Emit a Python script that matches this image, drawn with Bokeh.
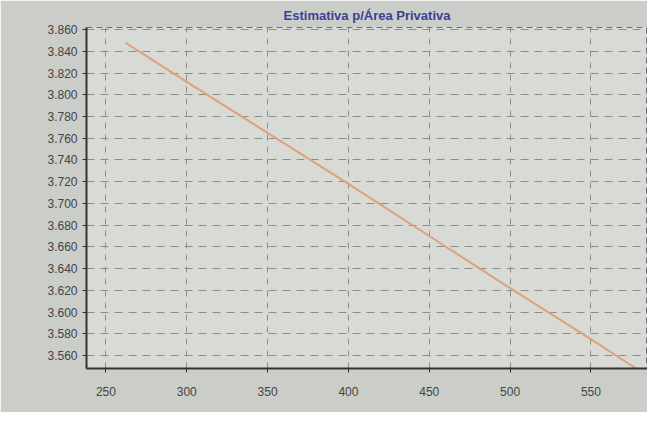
from bokeh.plotting import figure
from bokeh.models import Range1d, FixedTicker, CustomJSTickFormatter
from bokeh.embed import file_html
from bokeh.resources import INLINE

# Data (area vs estimated value per m²)
area = [262, 300, 350, 400, 450, 500, 550, 578]
estimate = [3848, 3812, 3765, 3718, 3670, 3622, 3575, 3548]
x_ticks = [250, 300, 350, 400, 450, 500, 550]
y_ticks = [3560, 3580, 3600, 3620, 3640, 3660, 3680, 3700, 3720, 3740, 3760, 3780, 3800, 3820, 3840, 3860]

p = figure(width=647, height=412, output_backend="svg", toolbar_location=None,
           x_range=Range1d(238, 585), y_range=Range1d(3548, 3862),
           title="Estimativa p/Área Privativa")

p.background_fill_color = "#d8dad6"
p.border_fill_color = "#cbcdc9"
p.outline_line_color = "#6f716f"
p.outline_line_dash = "6 4"
p.min_border_left = 86
p.min_border_right = 0
p.min_border_top = 8
p.min_border_bottom = 44

p.title.align = "center"
p.title.text_color = "#3c3f95"
p.title.text_font = "Liberation Sans"
p.title.text_font_style = "bold"
p.title.text_font_size = "13px"

p.line(area, estimate, line_color="#e0a07a", line_width=2)

p.xaxis.ticker = FixedTicker(ticks=x_ticks)
p.yaxis.ticker = FixedTicker(ticks=y_ticks)
p.yaxis.formatter = CustomJSTickFormatter(code="return (tick/1000).toFixed(3);")

for ax in (p.xaxis[0], p.yaxis[0]):
    ax.axis_line_color = "#333333"
    ax.axis_line_width = 2
    ax.major_tick_line_color = "#333333"
    ax.minor_tick_line_color = None
    ax.major_tick_in = 0
    ax.major_tick_out = 4
    ax.major_label_text_font = "Liberation Sans"
    ax.major_label_text_font_size = "12px"
    ax.major_label_text_color = "#444444"

p.xaxis.major_label_standoff = 14

p.xgrid.grid_line_color = "#8c8e8b"
p.xgrid.grid_line_dash = "6 6"
p.ygrid.grid_line_color = "#8c8e8b"
p.ygrid.grid_line_dash = "8 6"

open("out.html", "w").write(file_html(p, INLINE))
